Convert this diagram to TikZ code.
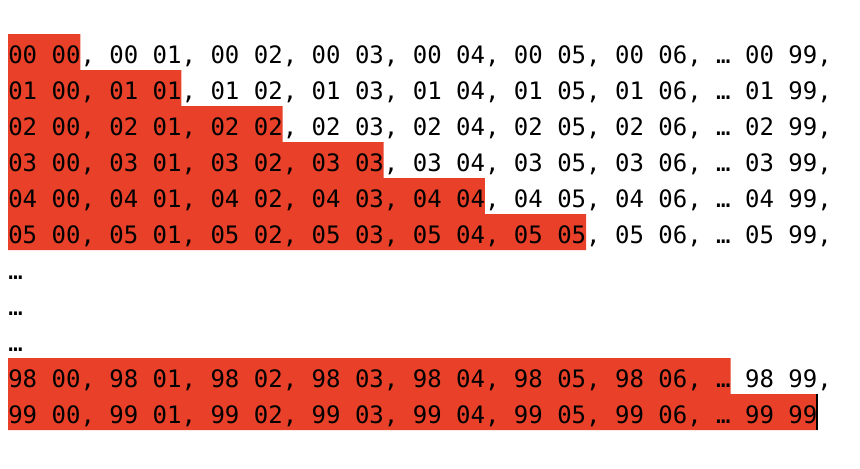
\documentclass[tikz,border=0pt]{standalone}
\usepackage{fontspec}
\setmonofont{DejaVu Sans Mono}
\definecolor{hired}{RGB}{233,65,41}
\tikzset{seqrow/.style={anchor=base west, inner sep=0pt, font=\ttfamily\fontsize{18pt}{18pt}\selectfont\frenchspacing}}

\begin{document}
\begin{tikzpicture}[x=0.75pt, y=-0.75pt]
\useasboundingbox (0,0) rectangle (860,468);
% staircase of selected pairs
\fill [hired] (8,34) -- (80.25,34) -- (80.25,70) -- (181.4,70) -- (181.4,106) -- (282.55,106) -- (282.55,142) -- (383.7,142) -- (383.7,178) -- (484.85,178) -- (484.85,214) -- (586,214) -- (586,250) -- (8,250) -- cycle;
\fill [hired] (8,358) -- (730.5,358) -- (730.5,394) -- (817.2,394) -- (817.2,430) -- (8,430) -- cycle;
\node [seqrow] (r00) at (8,63) {00 00, 00 01, 00 02, 00 03, 00 04, 00 05, 00 06, … 00 99,};
\node [seqrow] (r01) at (8,99) {01 00, 01 01, 01 02, 01 03, 01 04, 01 05, 01 06, … 01 99,};
\node [seqrow] (r02) at (8,135) {02 00, 02 01, 02 02, 02 03, 02 04, 02 05, 02 06, … 02 99,};
\node [seqrow] (r03) at (8,171) {03 00, 03 01, 03 02, 03 03, 03 04, 03 05, 03 06, … 03 99,};
\node [seqrow] (r04) at (8,207) {04 00, 04 01, 04 02, 04 03, 04 04, 04 05, 04 06, … 04 99,};
\node [seqrow] (r05) at (8,243) {05 00, 05 01, 05 02, 05 03, 05 04, 05 05, 05 06, … 05 99,};
\node [seqrow] (dots1) at (8,279) {…};
\node [seqrow] (dots2) at (8,315) {…};
\node [seqrow] (dots3) at (8,351) {…};
\node [seqrow] (r98) at (8,387) {98 00, 98 01, 98 02, 98 03, 98 04, 98 05, 98 06, … 98 99,};
\node [seqrow] (r99) at (8,423) {99 00, 99 01, 99 02, 99 03, 99 04, 99 05, 99 06, … 99 99};
\draw [line width=1.5pt] (817.2,394) -- (817.2,430); % cursor
\end{tikzpicture}
\end{document}
